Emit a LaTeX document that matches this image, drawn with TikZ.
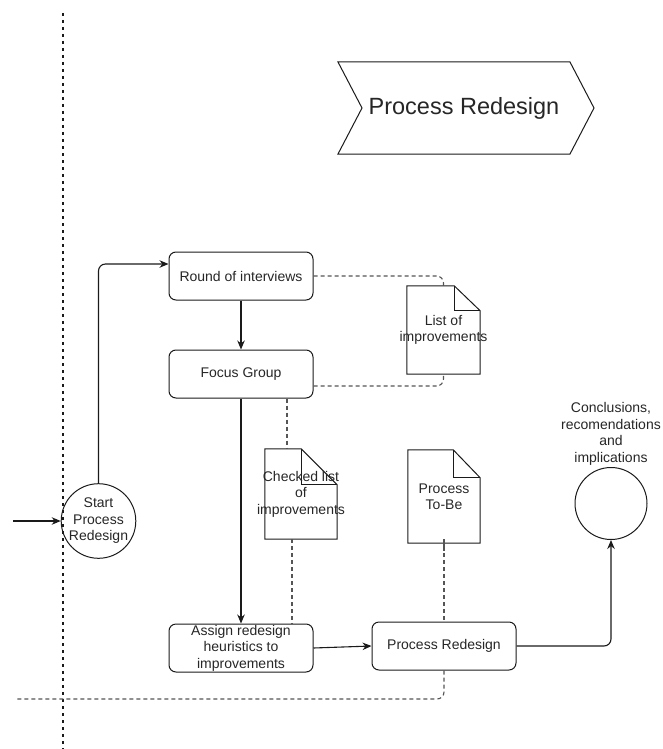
\documentclass[tikz,border=0pt]{standalone}
\usepackage{fontspec}
\setmainfont{Liberation Sans}
\usetikzlibrary{arrows.meta,positioning}

\definecolor{inkline}{HTML}{1A1A1A}
\definecolor{inktext}{HTML}{262626}
\definecolor{linkgray}{HTML}{555555}

\tikzset{
  stepbox/.style={draw=inkline, line width=1pt, rounded corners=7pt,
    minimum width=144pt, minimum height=48pt, inner sep=0pt,
    align=center, text=inktext, font=\fontsize{14}{16.5}\selectfont},
  eventcircle/.style={draw=inkline, line width=1pt, circle,
    minimum size=72pt, inner sep=0pt, align=center, text=inktext,
    font=\fontsize{14}{16.5}\selectfont},
  docbox/.style={inner sep=0pt},
  docline/.style={draw=inkline, line width=1pt, line join=miter},
  doctext/.style={align=center, text=inktext, inner sep=0pt,
    font=\fontsize{14}{16.5}\selectfont},
  flow/.style={draw=inkline, line width=1.1pt, rounded corners=7pt,
    -{Stealth[length=9pt,width=7.5pt]}},
  datalink/.style={draw=linkgray, line width=1.1pt, dash pattern=on 4pt off 3pt,
    rounded corners=7pt},
  lane/.style={draw=inkline, line width=1.2pt, dash pattern=on 3pt off 4pt},
}

\begin{document}
\begin{tikzpicture}[x=1pt,y=1pt]
\useasboundingbox (0,0) rectangle (662,-749);

% lane separators
\coordinate (vtop) at (63,-13);
\coordinate (vbot) at (63,-749);
\draw[lane] (vtop) -- (vbot);

% phase banner
\coordinate (c1) at (338,-62);
\coordinate (c2) at (570,-62);
\coordinate (c3) at (594,-108);
\coordinate (c4) at (570,-154);
\coordinate (c5) at (338,-154);
\coordinate (c6) at (362,-108);
\draw[draw=inkline, line width=1pt, line join=miter] (c1) -- (c2) -- (c3) -- (c4) -- (c5) -- (c6) -- cycle;
\node[text=inktext, font=\fontsize{23.5}{28}\selectfont] (phase) at (464,-108) {Process Redesign};

% activities
\node[stepbox] (round)  at (241,-276) {Round of interviews};
\node[stepbox] (focus)  at (241,-374) {Focus Group};
\node[stepbox] (assign) at (241,-648) {Assign redesign\\heuristics to\\improvements};
\node[stepbox] (redes)  at (444,-646) {Process Redesign};

% events
\node[eventcircle] (start) at (98.5,-521) {Start\\Process\\Redesign};
\node[eventcircle] (concl) at (611,-503.5) {};
\node[doctext, above=1.5pt of concl] (concltxt) {Conclusions,\\recomendations\\and\\implications};

% documents
\node[docbox, minimum width=73pt, minimum height=88pt] (list) at (443.5,-330) {};
\draw[docline] (list.south west) -- (list.north west) -- ([xshift=-26pt]list.north east)
  -- ([yshift=-25pt]list.north east) -- (list.south east) -- cycle;
\draw[docline] ([xshift=-26pt]list.north east) |- ([yshift=-25pt]list.north east);
\node[doctext] (listtxt) at (list.center) {List of\\improvements};

\node[docbox, minimum width=72pt, minimum height=90pt] (checked) at (301,-494) {};
\draw[docline] (checked.south west) -- (checked.north west) -- ([xshift=-36pt]checked.north east)
  -- ([yshift=-36pt]checked.north east) -- (checked.south east) -- cycle;
\draw[docline] ([xshift=-36pt]checked.north east) |- ([yshift=-36pt]checked.north east);
\node[doctext] (checkedtxt) at (checked.center) {Checked list\\of\\improvements};

\node[docbox, minimum width=72pt, minimum height=93pt] (tobe) at (444,-496.5) {};
\draw[docline] (tobe.south west) -- (tobe.north west) -- ([xshift=-27pt]tobe.north east)
  -- ([yshift=-28pt]tobe.north east) -- (tobe.south east) -- cycle;
\draw[docline] ([xshift=-27pt]tobe.north east) |- ([yshift=-28pt]tobe.north east);
\node[doctext] (tobetxt) at (tobe.center) {Process\\To-Be};

% sequence flow
\coordinate (inflow) at (13,-521);
\draw[flow] (inflow) -- (start.west);
\draw[flow] (start.north) |- ([yshift=12pt]round.west);
\draw[flow] (round.south) -- (focus.north);
\draw[flow] (focus.south) -- (assign.north);
\draw[flow] (assign.east) -- (redes.west);
\draw[flow] (redes.east) -| (concl.south);

% data associations
\draw[datalink] (round.east) -| (list.north);
\draw[datalink] ([yshift=-12pt]focus.east) -| (list.south);
\draw[datalink] ([xshift=46pt]focus.south) -- ([xshift=46pt]focus.south |- checked.north);
\coordinate (chkout) at (292,-539);
\draw[datalink] (chkout) -- (chkout |- assign.north);
\draw[datalink] ([yshift=-3pt]tobe.south) -- ([yshift=-3pt]tobe.south -| redes.north) -- (redes.north);
\coordinate (loopend) at (15,-699);
\draw[datalink] (redes.south) |- (loopend);
\end{tikzpicture}
\end{document}
